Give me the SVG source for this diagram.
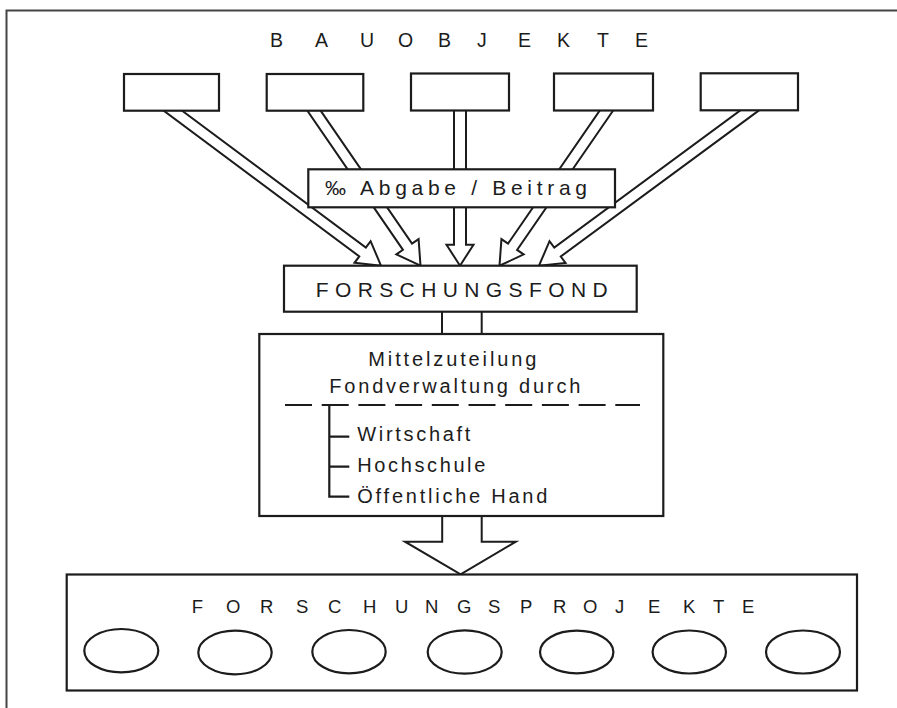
<svg xmlns="http://www.w3.org/2000/svg" width="897" height="708" viewBox="0 0 897 708">
<defs>
<style>
.ln{fill:none;stroke:#1c1c1c;stroke-width:2.2}
.bx{fill:#fff;stroke:#1c1c1c;stroke-width:2.2}
.ar{fill:#fff;stroke:#1c1c1c;stroke-width:2;stroke-linejoin:miter}
.t{font-family:"Liberation Sans",Arial,sans-serif;fill:#1c1c1c}
</style>
<polygon id="shaft-head" points="0,0 -23,-13.5 -23,-5.5"/>
</defs>
<rect width="897" height="708" fill="#fff"/>
<path d="M6.5,708 V10.5 H897" fill="none" stroke="#444" stroke-width="2"/>

<g id="connectors">
  <g transform="translate(381,265.7) rotate(36.67)"><polygon class="ar" points="-275,-5.5 -23,-5.5 -23,-13.5 0,0 -23,13.5 -23,5.5 -275,5.5"/></g>
  <g transform="translate(420.5,265.7) rotate(55.51)"><polygon class="ar" points="-202,-5.5 -23,-5.5 -23,-13.5 0,0 -23,13.5 -23,5.5 -202,5.5"/></g>
  <g transform="translate(460,265.7) rotate(90)"><polygon class="ar" points="-170,-6 -21,-6 -21,-13.5 0,0 -21,13.5 -21,6 -170,6"/></g>
  <g transform="translate(499.5,265.7) rotate(124.58)"><polygon class="ar" points="-202,-5.5 -23,-5.5 -23,-13.5 0,0 -23,13.5 -23,5.5 -202,5.5"/></g>
  <g transform="translate(539,265.7) rotate(143.6)"><polygon class="ar" points="-276,-5.5 -23,-5.5 -23,-13.5 0,0 -23,13.5 -23,5.5 -276,5.5"/></g>
  <polygon class="ar" points="442,300 481.7,300 481.7,345 442,345"/>
  <polygon class="ar" points="442.2,505 442.2,541.7 405,541.7 460.6,574.3 515.8,541.7 481.7,541.7 481.7,505"/>
</g>

<g id="bauobjekte-title">
  <text class="t" font-size="19.5" y="47.3" x="270 315 360 398 438 477 518 557 597 635">BAUOBJEKTE</text>
</g>
<g id="bauobjekt-1"><rect class="bx" x="124" y="74" width="95" height="36.7"/></g>
<g id="bauobjekt-2"><rect class="bx" x="266.7" y="74" width="96.6" height="36.7"/></g>
<g id="bauobjekt-3"><rect class="bx" x="411" y="73.5" width="98" height="37"/></g>
<g id="bauobjekt-4"><rect class="bx" x="554" y="73.5" width="99" height="37"/></g>
<g id="bauobjekt-5"><rect class="bx" x="700.7" y="73.3" width="97.3" height="37"/></g>

<g id="abgabe">
  <rect class="bx" x="308.3" y="169.3" width="306.7" height="38"/>
  <text class="t" font-size="21" x="325" y="195" textLength="262" lengthAdjust="spacing">‰ Abgabe / Beitrag</text>
</g>

<g id="forschungsfond">
  <rect class="bx" x="284" y="265.7" width="352.7" height="46"/>
  <text class="t" font-size="21" x="315.7" y="296.7" textLength="292" lengthAdjust="spacing">FORSCHUNGSFOND</text>
</g>

<g id="fondverwaltung">
  <rect class="bx" x="259.3" y="334" width="404" height="182"/>
  <text class="t" font-size="20" x="368.3" y="366" textLength="168" lengthAdjust="spacing">Mittelzuteilung</text>
  <text class="t" font-size="20" x="329.3" y="392.7" textLength="251" lengthAdjust="spacing">Fondverwaltung durch</text>
  <line class="ln" x1="285" y1="405" x2="640" y2="405" stroke-dasharray="27 9.7"/>
  <path class="ln" d="M329.3,405 V496.7 H349.3 M329.3,436.7 H349.3 M329.3,466.7 H349.3"/>
  <text class="t" font-size="20" x="357.3" y="441" textLength="113" lengthAdjust="spacing">Wirtschaft</text>
  <text class="t" font-size="20" x="357.3" y="471.7" textLength="128" lengthAdjust="spacing">Hochschule</text>
  <text class="t" font-size="20" x="357.3" y="502.7" textLength="190" lengthAdjust="spacing">Öffentliche Hand</text>
</g>

<g id="forschungsprojekte">
  <rect class="bx" x="66.7" y="574.5" width="790.3" height="116"/>
  <text class="t" font-size="18.5" y="613.3" x="191.7 226 260 296 328 363 395 425 457 488 520 553 583 615 648 683 713 742">FORSCHUNGSPROJEKTE</text>
  <ellipse class="ln" cx="121.3" cy="650.7" rx="37" ry="21.7"/>
  <ellipse class="ln" cx="235" cy="652.5" rx="36.7" ry="21.8"/>
  <ellipse class="ln" cx="349" cy="651.7" rx="36.7" ry="21.7"/>
  <ellipse class="ln" cx="464.7" cy="652" rx="37" ry="21.7"/>
  <ellipse class="ln" cx="576.7" cy="652" rx="36.7" ry="21.3"/>
  <ellipse class="ln" cx="689.3" cy="652" rx="36.7" ry="21.5"/>
  <ellipse class="ln" cx="803" cy="652" rx="37" ry="21.5"/>
</g>
</svg>
